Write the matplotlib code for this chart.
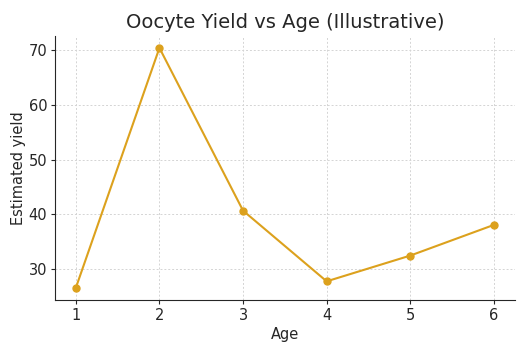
import matplotlib
matplotlib.use("Agg")
import matplotlib.pyplot as plt

# Datos
ages = [1, 2, 3, 4, 5, 6]
yields = [26.6, 70.4, 40.7, 27.8, 32.5, 38.1]

fig = plt.figure(figsize=(5.28, 3.52), dpi=100)
ax = fig.add_axes([0.104, 0.148, 0.871, 0.75])

ax.plot(ages, yields, color="#dca11d", marker="o", markersize=5, linewidth=1.5)

ax.set_title("Oocyte Yield vs Age (Illustrative)", fontsize=14, color="#262626")
ax.set_xlabel("Age", fontsize=10.5, color="#262626", labelpad=3)
ax.set_ylabel("Estimated yield", fontsize=10.5, color="#262626", labelpad=2)

ax.set_xticks(ages)
ax.set_yticks([30, 40, 50, 60, 70])
ax.tick_params(labelsize=10.5, length=3, pad=2.5, colors="#262626")

ax.grid(True, linestyle=(0, (2, 2)), color="#d4d4d4", linewidth=0.7)
ax.spines["top"].set_visible(False)
ax.spines["right"].set_visible(False)
for s in ("left", "bottom"):
    ax.spines[s].set_color("#262626")

fig.savefig("out.png", dpi=100)
